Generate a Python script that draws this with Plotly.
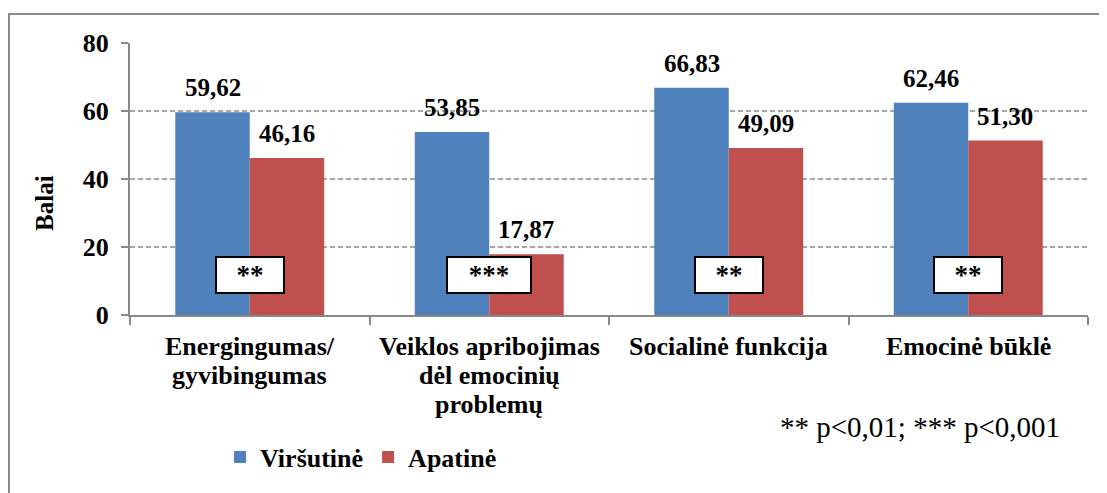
import plotly.graph_objects as go

# duomenys
kategorijos = ["Energingumas/<br>gyvibingumas",
               "Veiklos apribojimas<br>dėl emocinių<br>problemų",
               "Socialinė funkcija",
               "Emocinė būklė"]
virsutine = [59.62, 53.85, 66.83, 62.46]
apatine = [46.16, 17.87, 49.09, 51.30]
reiksmingumas = ["**", "***", "**", "**"]
y_ticks = [0, 20, 40, 60, 80]

SERIF = "Liberation Serif, Times New Roman, serif"
BLUE = "#4F81BD"
RED = "#C0504D"
GRID = "#A6A6A6"
AXIS = "#898989"

def bold(size):
    return dict(family=SERIF, size=size, color="black", weight="bold")

fig = go.Figure()
fig.add_trace(go.Bar(x=kategorijos, y=virsutine, name="Viršutinė",
                     marker=dict(color=BLUE, line=dict(width=0))))
fig.add_trace(go.Bar(x=kategorijos, y=apatine, name="Apatinė",
                     marker=dict(color=RED, line=dict(width=0))))

def fmt(v):
    return f"{v:.2f}".replace(".", ",")

annotations = []
# reiksmiu etiketes virs stulpeliu
for cat, v1, v2 in zip(kategorijos, virsutine, apatine):
    for v, shift in ((v1, -37), (v2, 37)):
        annotations.append(dict(x=cat, y=v, xref="x", yref="y", text=fmt(v),
                                showarrow=False, xshift=shift, xanchor="center",
                                yanchor="bottom", yshift=9, font=bold(25)))

# reiksmingumo langeliai
for cat, s in zip(kategorijos, reiksmingumas):
    annotations.append(dict(x=cat, y=11.8, xref="x", yref="y", text=s,
                            showarrow=False, xanchor="center", yanchor="middle",
                            bgcolor="white", bordercolor="black",
                            borderwidth=2, borderpad=2, width=62 if len(s) == 2 else 78,
                            height=30, valign="bottom", font=bold(27)))

# kategoriju pavadinimai (tankesnis eiluciu tarpas nei tick etiketese)
for cat in kategorijos:
    for i, eil in enumerate(cat.split("<br>")):
        annotations.append(dict(x=cat, y=0, xref="x", yref="paper", text=eil,
                                showarrow=False, xanchor="center", yanchor="middle",
                                yshift=-31 - 29 * i, font=bold(26)))

annotations.append(dict(x=-0.0887, y=0.412, xref="paper", yref="paper", text="Balai",
                        textangle=-90, showarrow=False, xanchor="center", yanchor="middle",
                        font=bold(25)))
annotations.append(dict(x=0.8246, y=-0.412, xref="paper", yref="paper",
                        text="** p&lt;0,01; *** p&lt;0,001", showarrow=False,
                        xanchor="center", yanchor="middle",
                        font=dict(family=SERIF, size=29, color="black")))

# puslapio paraste (8px) kompensuojama per margin
fig.update_layout(
    width=1107, height=493,
    margin=dict(l=122, r=27, t=35, b=186, autoexpand=False),
    paper_bgcolor="white", plot_bgcolor="white",
    barmode="group", bargap=0.378, bargroupgap=0,
    font=dict(family=SERIF, color="black"),
    annotations=annotations,
    showlegend=True,
    legend=dict(orientation="h", x=0.094, y=-0.522, xanchor="left", yanchor="middle",
                font=bold(26), itemwidth=30, tracegroupgap=0, traceorder="normal"),
    shapes=[dict(type="rect", xref="paper", yref="paper",
                 x0=-0.1263, x1=1.05, y0=-0.7, y1=1.1066,
                 line=dict(color="#8C8C8C", width=2), layer="below")],
)
fig.update_xaxes(showline=True, linecolor=AXIS, linewidth=2, automargin=False,
                 ticks="outside", tickson="boundaries", ticklen=8, tickwidth=2,
                 tickcolor=AXIS, showticklabels=False, showgrid=False)
fig.update_yaxes(range=[0, 80], tickvals=y_ticks, showline=True, linecolor=AXIS,
                 linewidth=2, ticks="outside", ticklen=7, tickwidth=2, tickcolor=AXIS,
                 tickfont=bold(26), ticklabelstandoff=7, automargin=False,
                 showgrid=True, gridcolor=GRID, gridwidth=2, griddash="5px,3px",
                 zeroline=False)

fig.write_html("out.html")
